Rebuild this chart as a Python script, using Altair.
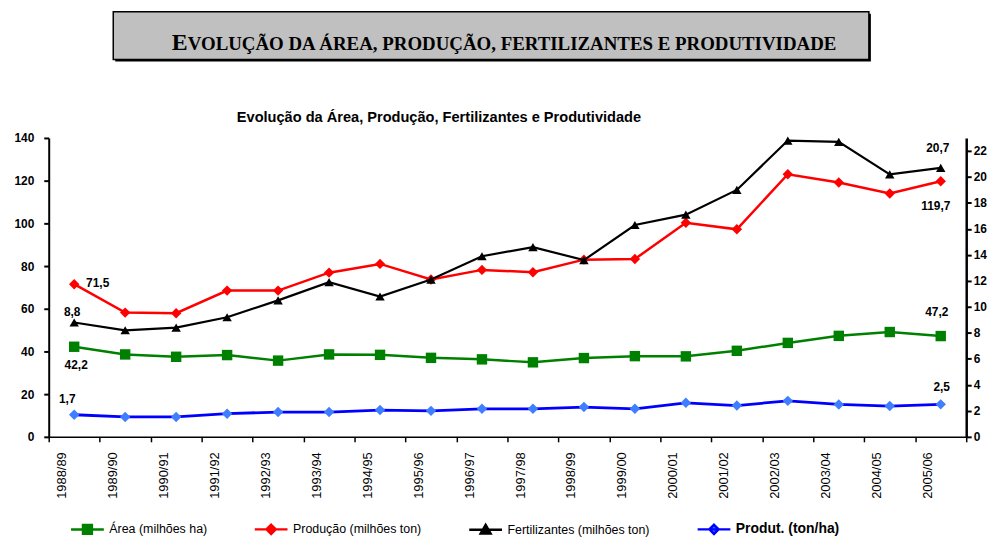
import altair as alt
import pandas as pd

# ---------------- data ----------------
anos = ["1988/89", "1989/90", "1990/91", "1991/92", "1992/93", "1993/94",
        "1994/95", "1995/96", "1996/97", "1997/98", "1998/99", "1999/00",
        "2000/01", "2001/02", "2002/03", "2003/04", "2004/05", "2005/06"]
area = [42.2, 38.6, 37.5, 38.3, 35.7, 38.6, 38.4, 37.0, 36.3, 34.9, 36.9, 37.8,
        37.7, 40.3, 44.0, 47.3, 49.1, 47.2]
producao = [71.5, 58.2, 57.9, 68.5, 68.5, 76.9, 81.0, 73.7, 78.2, 77.1, 83.0, 83.3,
            100.3, 97.2, 123.0, 119.1, 114.0, 119.7]
fertilizantes = [8.8, 8.2, 8.4, 9.2, 10.5, 11.9, 10.8, 12.1, 13.9, 14.6, 13.6, 16.3,
                 17.1, 19.0, 22.8, 22.7, 20.2, 20.7]
produtividade = [1.7, 1.53, 1.53, 1.78, 1.91, 1.91, 2.06, 2.0, 2.16, 2.16, 2.29, 2.16,
                 2.62, 2.41, 2.77, 2.49, 2.37, 2.5]

S_AREA = "Área (milhões ha)"
S_PROD = "Produção (milhões ton)"
S_FERT = "Fertilizantes (milhões ton)"
S_PRDT = "Produt. (ton/ha)"
nomes = [S_AREA, S_PROD, S_FERT, S_PRDT]
valores = [area, producao, fertilizantes, produtividade]

rows = []
for nome, vals in zip(nomes, valores):
    for a, v in zip(anos, vals):
        rows.append({"ano": a, "serie": nome, "valor": v})
df = pd.DataFrame(rows)

lab_rows = []
for nome, vals in zip(nomes, valores):
    for idx in (0, len(anos) - 1):
        lab_rows.append({"ano": anos[idx], "serie": nome, "valor": vals[idx],
                         "texto": f"{vals[idx]:.1f}".replace(".", ",")})
df_lab = pd.DataFrame(lab_rows)

# ---------------- styles ----------------
FONT = "Liberation Sans"
cor_linha = {S_AREA: "#008000", S_PROD: "#ff0000", S_FERT: "#000000", S_PRDT: "#0000ff"}
cor_marca = {S_AREA: "#008000", S_PROD: "#ff0000", S_FERT: "#000000", S_PRDT: "#3f7fff"}
forma = {S_AREA: "square", S_PROD: "diamond", S_FERT: "triangle-up", S_PRDT: "diamond"}
tamanho = {S_AREA: 110, S_PROD: 110, S_FERT: 90, S_PRDT: 110}
largura = {S_AREA: 2.5, S_PROD: 2.5, S_FERT: 2.2, S_PRDT: 2.8}
leg_path = {
    S_AREA: "M-1,0H1M-0.27,-0.27H0.27V0.27H-0.27Z",
    S_PROD: "M-1,0H1M0,-0.28L0.28,0L0,0.28L-0.28,0Z",
    S_FERT: "M-1,0H1M0,-0.3L0.3,0.22H-0.3Z",
    S_PRDT: "M-1,0H1M0,-0.28L0.28,0L0,0.28L-0.28,0Z",
}

xenc = alt.X(
    "ano:N", sort=anos,
    scale=alt.Scale(type="band", paddingInner=0, paddingOuter=0),
    axis=alt.Axis(title=None, labelAngle=-90, labelFont=FONT, labelFontSize=13,
                  labelColor="black", labelPadding=10, labelOffset=-13,
                  tickBand="extent", tickSize=5, tickWidth=1.5, tickColor="black",
                  domainColor="black", domainWidth=1.5, grid=False),
)
yL = alt.Y(
    "valor:Q", scale=alt.Scale(domain=[0, 140], nice=False),
    axis=alt.Axis(orient="left", title=None, values=list(range(0, 141, 20)),
                  labelFont=FONT, labelFontSize=12, labelFontWeight="bold",
                  labelColor="black", labelPadding=10, tickSize=5, tickWidth=2,
                  tickColor="black", domainColor="black", domainWidth=2, grid=False),
)
yR = alt.Y(
    "valor:Q", scale=alt.Scale(domain=[0, 23], nice=False),
    axis=alt.Axis(orient="right", title=None, values=list(range(0, 23, 2)),
                  labelFont=FONT, labelFontSize=12, labelFontWeight="bold",
                  labelColor="black", labelPadding=2, tickSize=5, tickWidth=2,
                  tickColor="black", domainColor="black", domainWidth=2.5, grid=False),
)


def serie(nome, yenc):
    base = alt.Chart(df).transform_filter(alt.datum.serie == nome)
    linha = base.mark_line(color=cor_linha[nome], strokeWidth=largura[nome]).encode(x=xenc, y=yenc)
    pontos = base.mark_point(shape=forma[nome], filled=True, color=cor_marca[nome],
                             size=tamanho[nome], opacity=1).encode(x=xenc, y=yenc)
    return [linha, pontos]


def rotulo(nome, ano, dx, dy, align, yenc):
    return alt.Chart(df_lab).transform_filter(
        (alt.datum.serie == nome) & (alt.datum.ano == ano)
    ).mark_text(dx=dx, dy=dy, align=align, baseline="middle", font=FONT,
                fontSize=12, fontWeight="bold", color="black").encode(
        x=xenc, y=yenc, text="texto:N")


first, last = anos[0], anos[-1]
esquerda = alt.layer(
    *serie(S_AREA, yL), *serie(S_PROD, yL),
    rotulo(S_PROD, first, 12, -1, "left", yL),
    rotulo(S_AREA, first, 2, 18, "center", yL),
    rotulo(S_PROD, last, -5, 25, "center", yL),
    rotulo(S_AREA, last, -4, -24, "center", yL),
)
direita = alt.layer(
    *serie(S_FERT, yR), *serie(S_PRDT, yR),
    rotulo(S_FERT, first, -2, -11, "center", yR),
    rotulo(S_PRDT, first, -7, -16, "center", yR),
    rotulo(S_FERT, last, -3, -20, "center", yR),
    rotulo(S_PRDT, last, 1, -17, "center", yR),
)

# legend built from the scales (empty data, explicit domains)
L = alt.Legend(orient="none", legendX=21, legendY=376, direction="horizontal",
               title=None, labelFont=FONT, labelColor="black",
               labelFontSize=alt.ExprRef(expr="datum.label == 'Produt. (ton/ha)' ? 14 : 12.5"),
               labelFontWeight=alt.ExprRef(expr="datum.label == 'Produt. (ton/ha)' ? 'bold' : 'normal'"),
               symbolSize=1089, symbolStrokeWidth=2.5, columnPadding=42,
               labelOffset=4, padding=0, labelLimit=300)
legenda = alt.Chart(df).transform_filter("false").mark_point(filled=True, opacity=1).encode(
    fill=alt.Fill("serie:N", scale=alt.Scale(domain=nomes, range=[cor_marca[n] for n in nomes]), legend=L),
    stroke=alt.Stroke("serie:N", scale=alt.Scale(domain=nomes, range=[cor_linha[n] for n in nomes]), legend=L),
    shape=alt.Shape("serie:N", scale=alt.Scale(domain=nomes, range=[leg_path[n] for n in nomes]), legend=L),
)

# banner and chart title
one = pd.DataFrame({"k": [0]})
sombra = alt.Chart(one).mark_rect(fill="black").encode(
    x=alt.value(67), x2=alt.value(828), y=alt.value(-125), y2=alt.value(-77))
caixa = alt.Chart(one).mark_rect(fill="#c0c0c0", stroke="black", strokeWidth=1.5).encode(
    x=alt.value(65), x2=alt.value(826), y=alt.value(-127), y2=alt.value(-79))
banner_e = alt.Chart(one).mark_text(align="left", baseline="alphabetic", font="Liberation Serif",
                                    fontWeight="bold", fontSize=24, color="black").encode(
    x=alt.value(124), y=alt.value(-89), text=alt.value("E"))
banner_r = alt.Chart(one).mark_text(align="left", baseline="alphabetic", font="Liberation Serif",
                                    fontWeight="bold", fontSize=19, color="black").encode(
    x=alt.value(140), y=alt.value(-89),
    text=alt.value("VOLUÇÃO DA ÁREA, PRODUÇÃO, FERTILIZANTES E PRODUTIVIDADE"))
titulo = alt.Chart(one).mark_text(align="center", baseline="alphabetic", font=FONT,
                                  fontWeight="bold", fontSize=14.7, color="black").encode(
    x=alt.value(393), y=alt.value(-16),
    text=alt.value("Evolução da Área, Produção, Fertilizantes e Produtividade"))

chart = alt.layer(
    sombra, caixa, banner_e, banner_r, titulo, esquerda, direita, legenda
).resolve_scale(
    y="independent"
).properties(
    width=924, height=301,
    autosize=alt.AutoSizeParams(type="none"),
    padding={"left": 41, "top": 129, "right": 30, "bottom": 100},
    background="white",
).configure_view(stroke=None)

chart.save("out.html", embed_options={"renderer": "svg", "actions": False})
